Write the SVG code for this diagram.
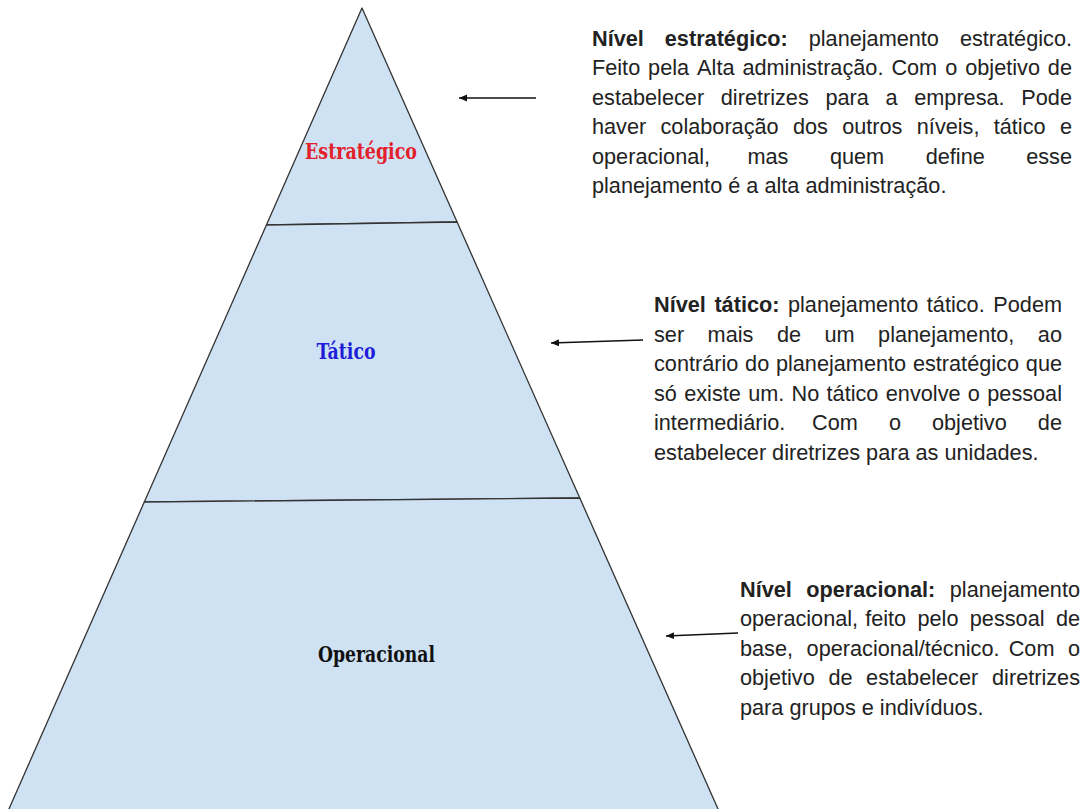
<svg xmlns="http://www.w3.org/2000/svg" width="1085" height="809" viewBox="0 0 1085 809">
<style>
.lvl{fill:#cfe2f3;stroke:#333;stroke-width:1.3;stroke-linejoin:round}
.lab{font-family:"DejaVu Serif","Liberation Serif",serif;font-stretch:condensed;font-weight:bold;font-size:23px;text-anchor:middle}
.desc{font-family:"Liberation Sans",Arial,sans-serif;font-size:23px;fill:#222}
.b{font-weight:bold}
.conn{stroke:#111;stroke-width:1.5;fill:none}
</style>
<defs>
<marker id="ah" markerUnits="userSpaceOnUse" markerWidth="10" markerHeight="8" refX="8" refY="3.5" orient="auto">
<path d="M0,0 L8,3.5 L0,7 z" fill="#111"/>
</marker>
</defs>
<rect width="1085" height="809" fill="#fff"/>
<g id="estrategico">
<polygon class="lvl" points="362,8 457.1,222 266.4,225"/>
<text class="lab" x="361" y="159" fill="#e3202b" textLength="112" lengthAdjust="spacingAndGlyphs">Estratégico</text>
</g>
<g id="tatico">
<polygon class="lvl" points="266.4,225 457.1,222 579.8,498 144.3,502"/>
<text class="lab" x="346" y="359" fill="#1e1ed8" textLength="59" lengthAdjust="spacingAndGlyphs">Tático</text>
</g>
<g id="operacional">
<polygon class="lvl" points="144.3,502 579.8,498 720.7,815 6.3,815"/>
<text class="lab" x="376.5" y="662" fill="#111" textLength="117" lengthAdjust="spacingAndGlyphs">Operacional</text>
</g>
<g id="connectors">
<line class="conn" x1="536" y1="98" x2="459" y2="98" marker-end="url(#ah)"/>
<line class="conn" x1="643" y1="340" x2="551" y2="343" marker-end="url(#ah)"/>
<line class="conn" x1="738" y1="633" x2="666" y2="636" marker-end="url(#ah)"/>
</g>
<g id="texto-estrategico" class="desc" transform="matrix(0.9435,0,0,1,33.448,0)">
<text y="46"><tspan class="b" x="592">Nível</tspan><tspan class="b" x="669.16">estratégico:</tspan><tspan x="821.68">planejamento</tspan><tspan x="1100.75" text-anchor="end">estratégico.</tspan></text>
<text y="75.5"><tspan x="592">Feito</tspan><tspan x="651.46">pela</tspan><tspan x="703.4">Alta</tspan><tspan x="751.41">administração.</tspan><tspan x="909.33">Com</tspan><tspan x="966.36">o</tspan><tspan x="987.56">objetivo</tspan><tspan x="1100.75" text-anchor="end">de</tspan></text>
<text y="105"><tspan x="592">estabelecer</tspan><tspan x="728.52">diretrizes</tspan><tspan x="839.49">para</tspan><tspan x="903.08">a</tspan><tspan x="933.5">empresa.</tspan><tspan x="1100.75" text-anchor="end">Pode</tspan></text>
<text y="134.5"><tspan x="592">haver</tspan><tspan x="664.6">colaboração</tspan><tspan x="805.04">dos</tspan><tspan x="857.19">outros</tspan><tspan x="936.26">níveis,</tspan><tspan x="1017.76">tático</tspan><tspan x="1100.75" text-anchor="end">e</tspan></text>
<text y="164"><tspan x="592">operacional,</tspan><tspan x="756.71">mas</tspan><tspan x="844.15">quem</tspan><tspan x="945.69">define</tspan><tspan x="1100.75" text-anchor="end">esse</tspan></text>
<text y="193.5" x="592">planejamento é a alta administração.</text>
</g>
<g id="texto-tatico" class="desc" transform="matrix(0.9435,0,0,1,36.951,0)">
<text y="312"><tspan class="b" x="654">Nível</tspan><tspan class="b" x="718.02">tático:</tspan><tspan x="796.03">planejamento</tspan><tspan x="943.14">tático.</tspan><tspan x="1086.44" text-anchor="end">Podem</tspan></text>
<text y="341.6"><tspan x="654">ser</tspan><tspan x="710.81">mais</tspan><tspan x="784.26">de</tspan><tspan x="834.71">um</tspan><tspan x="891.52">planejamento,</tspan><tspan x="1086.44" text-anchor="end">ao</tspan></text>
<text y="371.2"><tspan x="654">contrário</tspan><tspan x="750.56">do</tspan><tspan x="783.2">planejamento</tspan><tspan x="928.41">estratégico</tspan><tspan x="1086.44" text-anchor="end">que</tspan></text>
<text y="400.8"><tspan x="654">só</tspan><tspan x="686.01">existe</tspan><tspan x="753.84">um.</tspan><tspan x="799.84">No</tspan><tspan x="836.94">tático</tspan><tspan x="899.68">envolve</tspan><tspan x="986.6">o</tspan><tspan x="1086.44" text-anchor="end">pessoal</tspan></text>
<text y="430.4"><tspan x="654">intermediário.</tspan><tspan x="821.57">Com</tspan><tspan x="902.97">o</tspan><tspan x="948.65">objetivo</tspan><tspan x="1086.44" text-anchor="end">de</tspan></text>
<text y="460" x="654">estabelecer diretrizes para as unidades.</text>
</g>
<g id="texto-operacional" class="desc" transform="matrix(0.9435,0,0,1,41.81,0)">
<text y="597"><tspan class="b" x="740">Nível</tspan><tspan class="b" x="810.27">operacional:</tspan><tspan x="1100.37" text-anchor="end">planejamento</tspan></text>
<text y="626.5"><tspan x="740">operacional,</tspan><tspan x="872.7">feito</tspan><tspan x="928.13">pelo</tspan><tspan x="983.57">pessoal</tspan><tspan x="1100.37" text-anchor="end">de</tspan></text>
<text y="656"><tspan x="740">base,</tspan><tspan x="810.59">operacional/técnico.</tspan><tspan x="1024.8">Com</tspan><tspan x="1100.37" text-anchor="end">o</tspan></text>
<text y="685.5"><tspan x="740">objetivo</tspan><tspan x="833.7">de</tspan><tspan x="873.65">estabelecer</tspan><tspan x="1100.37" text-anchor="end">diretrizes</tspan></text>
<text y="715" x="740">para grupos e indivíduos.</text>
</g>
</svg>
